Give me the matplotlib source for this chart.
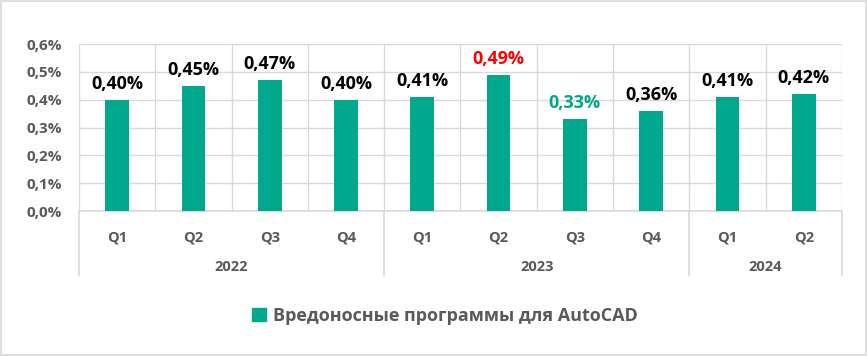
import matplotlib.pyplot as plt
from matplotlib.patches import Rectangle
import matplotlib.transforms as mtransforms

quarters = ["Q1", "Q2", "Q3", "Q4", "Q1", "Q2", "Q3", "Q4", "Q1", "Q2"]
years = ["2022", "2023", "2024"]
quarters_per_year = [4, 4, 2]
values = [0.40, 0.45, 0.47, 0.40, 0.41, 0.49, 0.33, 0.36, 0.41, 0.42]
label_colors = ["black", "black", "black", "black", "black",
                "#FF0000", "#00A88E", "black", "black", "black"]
series_name = "Вредоносные программы для AutoCAD"

bar_color = "#00A88E"
grid_color = "#D9D9D9"
text_gray = "#595959"

plt.rcParams["font.family"] = ["Open Sans", "DejaVu Sans"]

fig = plt.figure(figsize=(8.67, 3.56), dpi=100)
ax = fig.add_axes([0.0911, 0.4073, 0.88, 0.4691])

x = list(range(len(values)))
rects = ax.bar(x, values, width=0.31, color=bar_color, zorder=3)

for rect, v, c in zip(rects, values, label_colors):
    ax.annotate(f"{v:.2f}%".replace(".", ","),
                xy=(rect.get_x() + rect.get_width() / 2, rect.get_height()),
                xytext=(0, 5), textcoords="offset points",
                ha="center", va="bottom", fontsize=13, fontweight="bold", color=c)

ax.set_xlim(-0.5, len(values) - 0.5)
ax.set_ylim(0, 0.6)
ax.set_yticks([0, 0.1, 0.2, 0.3, 0.4, 0.5, 0.6])
ax.set_yticklabels([f"{t:.1f}%".replace(".", ",") for t in ax.get_yticks()],
                   fontsize=11, fontweight="bold", color=text_gray)
ax.tick_params(axis="y", length=0, pad=12)
ax.set_xticks([])
ax.grid(axis="y", color=grid_color, linewidth=1, zorder=0)
for b in range(len(values) + 1):
    ax.axvline(b - 0.5, color=grid_color, linewidth=1, zorder=0)
for s in ["top", "right", "left"]:
    ax.spines[s].set_visible(False)
ax.spines["bottom"].set_color(grid_color)
ax.spines["bottom"].set_linewidth(1.2)

# multi-level category axis
trans = mtransforms.blended_transform_factory(ax.transData, ax.transAxes)
for i, q in enumerate(quarters):
    ax.text(i, -0.156, q, transform=trans, ha="center", va="center",
            fontsize=10.5, fontweight="bold", color=text_gray)
start = 0
bounds = [-0.5]
for y, n in zip(years, quarters_per_year):
    ax.text(start + (n - 1) / 2, -0.335, y, transform=trans, ha="center", va="center",
            fontsize=10.5, fontweight="bold", color=text_gray)
    start += n
    bounds.append(start - 0.5)
for b in bounds:
    ax.plot([b, b], [0, -0.383], transform=trans, color=grid_color,
            linewidth=1.2, clip_on=False)

handle = Rectangle((0, 0), 1, 1, color=bar_color)
fig.legend([handle], [series_name], loc="center", bbox_to_anchor=(0.513, 0.112),
           frameon=False, handlelength=0.75, handleheight=0.75, handletextpad=0.4,
           prop={"size": 13, "weight": "bold"}, labelcolor=text_gray)

fig.patches.append(Rectangle((0.001, 0.002), 0.998, 0.996, transform=fig.transFigure,
                             fill=False, edgecolor=grid_color, linewidth=1.2))

fig.savefig("out.png", dpi=100, facecolor="white")
